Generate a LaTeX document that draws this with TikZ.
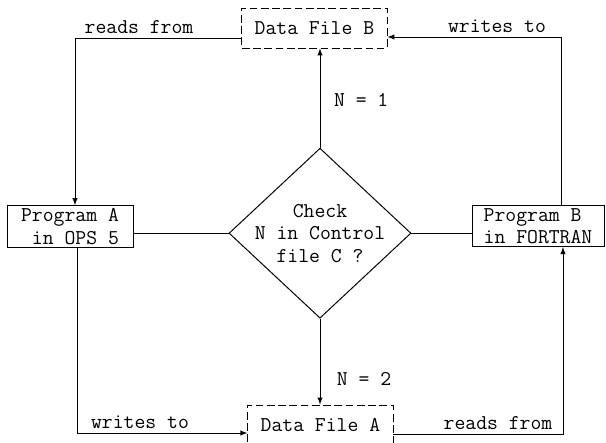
\documentclass[tikz,border=0pt]{standalone}
\usetikzlibrary{shapes.geometric}

\begin{document}
\begin{tikzpicture}[>=latex, line width=0.7pt,
  font=\ttfamily\fontsize{15pt}{16pt}\selectfont,
  prog/.style={draw, minimum height=0.93cm, inner sep=2pt},
  datafile/.style={draw, dash pattern=on 5.5pt off 2.5pt, minimum width=3.63cm, minimum height=1cm},
  check/.style={draw, diamond, shape aspect=1.07, minimum width=4.55cm, minimum height=4.25cm, align=center, inner sep=-1.5mm}]
 \useasboundingbox (0,0) rectangle (15.15,11.05);
 \node[datafile] (FileB) at (7.86,10.35) {Data File B};
 \node[datafile] (FileA) at (8.01,0.425) {Data File A};
 \node[prog, minimum width=3.15cm, align=right] (ProgA) at (1.75,5.39) {Program A\\in OPS 5};
 \node[prog, minimum width=3.3cm, align=left] (ProgB) at (13.45,5.4) {Program B\\in FORTRAN};
 \node[check] (Check) at (8.0,5.22) {Check\\N in Control\\file C ?};
 \draw[->] (Check.north) -- (Check.north |- FileB.south);
 \draw[->] (Check.south) -- (Check.south |- FileA.north);
 \draw (Check.west) -- (Check.west -| ProgA.east);
 \draw (Check.east) -- (Check.east -| ProgB.west);
 \coordinate (TL) at (1.875,10.1);
 \coordinate (TR) at (14.025,10.125);
 \coordinate (BL) at (1.94,0.225);
 \coordinate (BR) at (14.075,0.2);
 \draw[->] (FileB.west |- TL) -- (TL) -- (TL |- ProgA.north);
 \draw[->] (TR |- ProgB.north) -- (TR) -- (TR -| FileB.east);
 \draw[->] (BL |- ProgA.south) -- (BL) -- (BL -| FileA.west);
 \draw[->] (FileA.east |- BR) -- (BR) -- (BR |- ProgB.south);
 \foreach \n/\x/\y/\t in {rdB/3.475/10.2/reads from, wrB/12.425/10.225/writes to,
                          wrA/3.5/0.35/writes to, rdA/12.45/0.325/reads from}
   \node[anchor=base] (\n) at (\x,\y) {\t};
 \node (N1) at (9.03,8.55) {N = 1};
 \node (N2) at (9.1,1.575) {N = 2};
\end{tikzpicture}
\end{document}
